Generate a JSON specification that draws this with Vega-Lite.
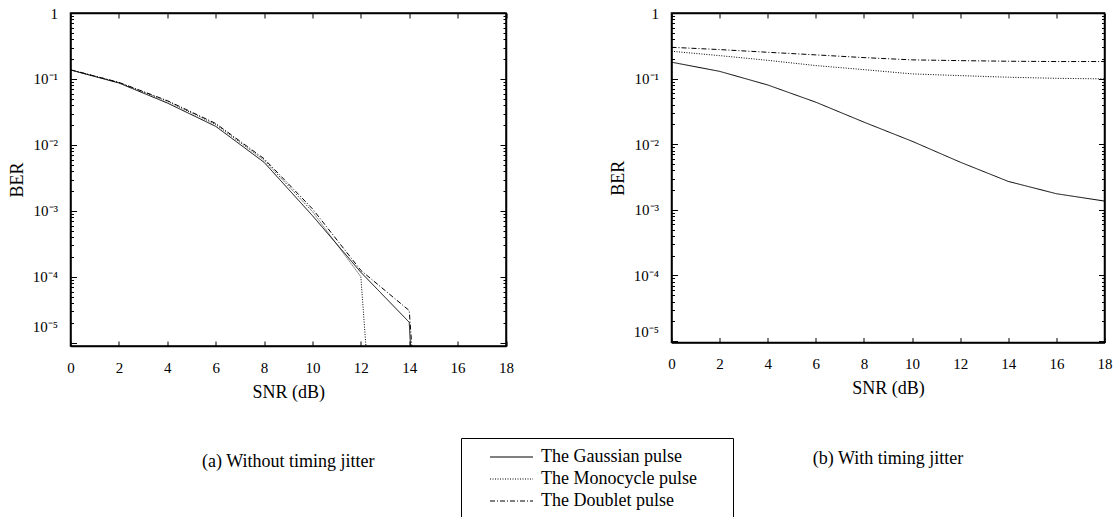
{
  "$schema": "https://vega.github.io/schema/vega-lite/v6.json",
  "background": "white",
  "padding": {"left": 7.5, "top": 5, "right": 5, "bottom": 0},
  "autosize": {"type": "pad"},
  "config": {
    "font": "Liberation Serif",
    "view": {"stroke": "black", "strokeWidth": 1.5},
    "axis": {
      "domainColor": "black", "domainWidth": 1.5, "tickColor": "black", "tickWidth": 1,
      "labelColor": "black", "titleColor": "black", "grid": false,
      "labelFont": "Liberation Serif", "titleFont": "Liberation Serif",
      "labelFontSize": 15, "titleFontSize": 18, "titleFontWeight": "normal",
      "labelOverlap": false, "labelFlush": false
    },
    "legend": {
      "orient": "none", "legendX": 390.5, "legendY": 425,
      "strokeColor": "black", "fillColor": "white", "padding": 10,
      "labelFont": "Liberation Serif", "labelFontSize": 18, "labelColor": "black", "labelLimit": 0,
      "symbolType": "M-4.3,0H4.3", "symbolSize": 100, "symbolStrokeColor": "black", "symbolStrokeWidth": 1,
      "symbolOffset": 31.5, "labelOffset": 20.5, "rowPadding": 4
    },
    "title": {"font": "Liberation Serif", "fontSize": 18, "fontWeight": "normal", "color": "black"}
  },
  "datasets": {
    "ber": [
      {"panel": "a", "pulse": "The Gaussian pulse", "snr": 0, "ber": 0.137},
      {"panel": "a", "pulse": "The Gaussian pulse", "snr": 2, "ber": 0.087},
      {"panel": "a", "pulse": "The Gaussian pulse", "snr": 4, "ber": 0.0433},
      {"panel": "a", "pulse": "The Gaussian pulse", "snr": 6, "ber": 0.0192},
      {"panel": "a", "pulse": "The Gaussian pulse", "snr": 8, "ber": 0.00547},
      {"panel": "a", "pulse": "The Gaussian pulse", "snr": 10, "ber": 0.00085},
      {"panel": "a", "pulse": "The Gaussian pulse", "snr": 12, "ber": 0.000118},
      {"panel": "a", "pulse": "The Gaussian pulse", "snr": 14, "ber": 0.0000206},
      {"panel": "a", "pulse": "The Gaussian pulse", "snr": 14.2, "ber": 0.000001},
      {"panel": "a", "pulse": "The Monocycle pulse", "snr": 0, "ber": 0.138},
      {"panel": "a", "pulse": "The Monocycle pulse", "snr": 2, "ber": 0.0885},
      {"panel": "a", "pulse": "The Monocycle pulse", "snr": 4, "ber": 0.046},
      {"panel": "a", "pulse": "The Monocycle pulse", "snr": 6, "ber": 0.0205},
      {"panel": "a", "pulse": "The Monocycle pulse", "snr": 8, "ber": 0.0059},
      {"panel": "a", "pulse": "The Monocycle pulse", "snr": 10, "ber": 0.00098},
      {"panel": "a", "pulse": "The Monocycle pulse", "snr": 12, "ber": 0.000101},
      {"panel": "a", "pulse": "The Monocycle pulse", "snr": 12.4, "ber": 0.000001},
      {"panel": "a", "pulse": "The Doublet pulse", "snr": 0, "ber": 0.138},
      {"panel": "a", "pulse": "The Doublet pulse", "snr": 2, "ber": 0.089},
      {"panel": "a", "pulse": "The Doublet pulse", "snr": 4, "ber": 0.047},
      {"panel": "a", "pulse": "The Doublet pulse", "snr": 6, "ber": 0.0212},
      {"panel": "a", "pulse": "The Doublet pulse", "snr": 8, "ber": 0.0062},
      {"panel": "a", "pulse": "The Doublet pulse", "snr": 10, "ber": 0.00108},
      {"panel": "a", "pulse": "The Doublet pulse", "snr": 12, "ber": 0.000126},
      {"panel": "a", "pulse": "The Doublet pulse", "snr": 14, "ber": 0.000031},
      {"panel": "a", "pulse": "The Doublet pulse", "snr": 14.3, "ber": 0.000001},
      {"panel": "b", "pulse": "The Gaussian pulse", "snr": 0, "ber": 0.178},
      {"panel": "b", "pulse": "The Gaussian pulse", "snr": 2, "ber": 0.129},
      {"panel": "b", "pulse": "The Gaussian pulse", "snr": 4, "ber": 0.08},
      {"panel": "b", "pulse": "The Gaussian pulse", "snr": 6, "ber": 0.0437},
      {"panel": "b", "pulse": "The Gaussian pulse", "snr": 8, "ber": 0.0217},
      {"panel": "b", "pulse": "The Gaussian pulse", "snr": 10, "ber": 0.0111},
      {"panel": "b", "pulse": "The Gaussian pulse", "snr": 12, "ber": 0.00533},
      {"panel": "b", "pulse": "The Gaussian pulse", "snr": 14, "ber": 0.00271},
      {"panel": "b", "pulse": "The Gaussian pulse", "snr": 16, "ber": 0.00176},
      {"panel": "b", "pulse": "The Gaussian pulse", "snr": 18, "ber": 0.00136},
      {"panel": "b", "pulse": "The Monocycle pulse", "snr": 0, "ber": 0.261},
      {"panel": "b", "pulse": "The Monocycle pulse", "snr": 2, "ber": 0.224},
      {"panel": "b", "pulse": "The Monocycle pulse", "snr": 4, "ber": 0.19},
      {"panel": "b", "pulse": "The Monocycle pulse", "snr": 6, "ber": 0.158},
      {"panel": "b", "pulse": "The Monocycle pulse", "snr": 8, "ber": 0.137},
      {"panel": "b", "pulse": "The Monocycle pulse", "snr": 10, "ber": 0.118},
      {"panel": "b", "pulse": "The Monocycle pulse", "snr": 12, "ber": 0.111},
      {"panel": "b", "pulse": "The Monocycle pulse", "snr": 14, "ber": 0.105},
      {"panel": "b", "pulse": "The Monocycle pulse", "snr": 16, "ber": 0.101},
      {"panel": "b", "pulse": "The Monocycle pulse", "snr": 18, "ber": 0.099},
      {"panel": "b", "pulse": "The Doublet pulse", "snr": 0, "ber": 0.3},
      {"panel": "b", "pulse": "The Doublet pulse", "snr": 2, "ber": 0.277},
      {"panel": "b", "pulse": "The Doublet pulse", "snr": 4, "ber": 0.252},
      {"panel": "b", "pulse": "The Doublet pulse", "snr": 6, "ber": 0.23},
      {"panel": "b", "pulse": "The Doublet pulse", "snr": 8, "ber": 0.209},
      {"panel": "b", "pulse": "The Doublet pulse", "snr": 10, "ber": 0.193},
      {"panel": "b", "pulse": "The Doublet pulse", "snr": 12, "ber": 0.188},
      {"panel": "b", "pulse": "The Doublet pulse", "snr": 14, "ber": 0.184},
      {"panel": "b", "pulse": "The Doublet pulse", "snr": 16, "ber": 0.182},
      {"panel": "b", "pulse": "The Doublet pulse", "snr": 18, "ber": 0.182}
    ]
  },
  "data": {"name": "ber"},
  "bounds": "flush",
  "spacing": 165,
  "resolve": {"scale": {"strokeDash": "shared", "x": "independent", "y": "independent"}},
  "hconcat": [
    {
      "width": 435.5, "height": 333,
      "title": {"text": "(a) Without timing jitter", "orient": "bottom", "anchor": "middle", "offset": 52},
      "transform": [{"filter": "datum.panel === 'a'"}],
      "layer": [
        {
          "mark": {"type": "line", "clip": true, "color": "black", "strokeWidth": 1},
          "encoding": {
            "x": {"field": "snr", "type": "quantitative", "scale": {"domain": [0, 18], "nice": false},
              "axis": {"orient": "bottom", "values": [0, 2, 4, 6, 8, 10, 12, 14, 16, 18], "tickSize": -5, "labelPadding": 19, "title": "SNR (dB)", "titlePadding": 8}},
            "y": {"field": "ber", "type": "quantitative", "scale": {"type": "log", "domain": [0.000009, 1], "nice": false},
              "axis": {"orient": "left", "title": "BER", "titlePadding": 6,
                "values": [0.00001, 0.00002, 0.00003, 0.00004, 0.00005, 0.00006, 0.00007, 0.00008, 0.00009, 0.0001, 0.0002, 0.0003, 0.0004, 0.0005, 0.0006, 0.0007, 0.0008, 0.0009, 0.001, 0.002, 0.003, 0.004, 0.005, 0.006, 0.007, 0.008, 0.009, 0.01, 0.02, 0.03, 0.04, 0.05, 0.06, 0.07, 0.08, 0.09, 0.1, 0.2, 0.3, 0.4, 0.5, 0.6, 0.7, 0.8, 0.9, 1],
                "tickSize": {"condition": {"test": "abs(log(datum.value)/LN10 - round(log(datum.value)/LN10)) < 0.000001", "value": -6}, "value": -3},
                "labelPadding": 19,
                "labelOffset": {"condition": {"test": "abs(datum.value - 0.00001) < 0.000000001", "value": -16}, "value": 0},
                "labelExpr": "abs(log(datum.value)/LN10 - round(log(datum.value)/LN10)) > 0.000001 ? '' : round(log(datum.value)/LN10) == 0 ? '1' : round(log(datum.value)/LN10) == -1 ? '10⁻¹' : round(log(datum.value)/LN10) == -2 ? '10⁻²' : round(log(datum.value)/LN10) == -3 ? '10⁻³' : round(log(datum.value)/LN10) == -4 ? '10⁻⁴' : '10⁻⁵'"}},
            "strokeDash": {"field": "pulse", "type": "nominal",
              "scale": {"domain": ["The Gaussian pulse", "The Monocycle pulse", "The Doublet pulse"], "range": [[1, 0], [1, 1.5], [5, 2, 1, 2]]},
              "legend": {"title": null, "labelExpr": "datum.label + '\u2800\u2800'"}}
          }
        },
        {
          "mark": {"type": "line", "clip": true, "opacity": 0},
          "encoding": {
            "x": {"field": "snr", "type": "quantitative", "axis": {"orient": "top", "values": [0, 2, 4, 6, 8, 10, 12, 14, 16, 18], "tickSize": -5, "labels": false, "title": null}},
            "y": {"field": "ber", "type": "quantitative",
              "axis": {"orient": "right", "labels": false, "title": null,
                "values": [0.00001, 0.00002, 0.00003, 0.00004, 0.00005, 0.00006, 0.00007, 0.00008, 0.00009, 0.0001, 0.0002, 0.0003, 0.0004, 0.0005, 0.0006, 0.0007, 0.0008, 0.0009, 0.001, 0.002, 0.003, 0.004, 0.005, 0.006, 0.007, 0.008, 0.009, 0.01, 0.02, 0.03, 0.04, 0.05, 0.06, 0.07, 0.08, 0.09, 0.1, 0.2, 0.3, 0.4, 0.5, 0.6, 0.7, 0.8, 0.9, 1],
                "tickSize": {"condition": {"test": "abs(log(datum.value)/LN10 - round(log(datum.value)/LN10)) < 0.000001", "value": -6}, "value": -3}}},
            "detail": {"field": "pulse"}
          }
        }
      ],
      "resolve": {"axis": {"x": "independent", "y": "independent"}}
    },
    {
      "width": 433, "height": 329.5,
      "title": {"text": "(b) With timing jitter", "orient": "bottom", "anchor": "middle", "offset": 52},
      "transform": [{"filter": "datum.panel === 'b'"}],
      "layer": [
        {
          "mark": {"type": "line", "clip": true, "color": "black", "strokeWidth": 1},
          "encoding": {
            "x": {"field": "snr", "type": "quantitative", "scale": {"domain": [0, 18], "nice": false},
              "axis": {"orient": "bottom", "values": [0, 2, 4, 6, 8, 10, 12, 14, 16, 18], "tickSize": -5, "labelPadding": 19, "title": "SNR (dB)", "titlePadding": 8}},
            "y": {"field": "ber", "type": "quantitative", "scale": {"type": "log", "domain": [0.0000095, 1], "nice": false},
              "axis": {"orient": "left", "title": "BER", "titlePadding": 6,
                "values": [0.00001, 0.00002, 0.00003, 0.00004, 0.00005, 0.00006, 0.00007, 0.00008, 0.00009, 0.0001, 0.0002, 0.0003, 0.0004, 0.0005, 0.0006, 0.0007, 0.0008, 0.0009, 0.001, 0.002, 0.003, 0.004, 0.005, 0.006, 0.007, 0.008, 0.009, 0.01, 0.02, 0.03, 0.04, 0.05, 0.06, 0.07, 0.08, 0.09, 0.1, 0.2, 0.3, 0.4, 0.5, 0.6, 0.7, 0.8, 0.9, 1],
                "tickSize": {"condition": {"test": "abs(log(datum.value)/LN10 - round(log(datum.value)/LN10)) < 0.000001", "value": -6}, "value": -3},
                "labelPadding": 19,
                "labelOffset": {"condition": {"test": "abs(datum.value - 0.00001) < 0.000000001", "value": -10}, "value": 0},
                "labelExpr": "abs(log(datum.value)/LN10 - round(log(datum.value)/LN10)) > 0.000001 ? '' : round(log(datum.value)/LN10) == 0 ? '1' : round(log(datum.value)/LN10) == -1 ? '10⁻¹' : round(log(datum.value)/LN10) == -2 ? '10⁻²' : round(log(datum.value)/LN10) == -3 ? '10⁻³' : round(log(datum.value)/LN10) == -4 ? '10⁻⁴' : '10⁻⁵'"}},
            "strokeDash": {"field": "pulse", "type": "nominal",
              "scale": {"domain": ["The Gaussian pulse", "The Monocycle pulse", "The Doublet pulse"], "range": [[1, 0], [1, 1.5], [5, 2, 1, 2]]},
              "legend": {"title": null, "labelExpr": "datum.label + '\u2800\u2800'"}}
          }
        },
        {
          "mark": {"type": "line", "clip": true, "opacity": 0},
          "encoding": {
            "x": {"field": "snr", "type": "quantitative", "axis": {"orient": "top", "values": [0, 2, 4, 6, 8, 10, 12, 14, 16, 18], "tickSize": -5, "labels": false, "title": null}},
            "y": {"field": "ber", "type": "quantitative",
              "axis": {"orient": "right", "labels": false, "title": null,
                "values": [0.00001, 0.00002, 0.00003, 0.00004, 0.00005, 0.00006, 0.00007, 0.00008, 0.00009, 0.0001, 0.0002, 0.0003, 0.0004, 0.0005, 0.0006, 0.0007, 0.0008, 0.0009, 0.001, 0.002, 0.003, 0.004, 0.005, 0.006, 0.007, 0.008, 0.009, 0.01, 0.02, 0.03, 0.04, 0.05, 0.06, 0.07, 0.08, 0.09, 0.1, 0.2, 0.3, 0.4, 0.5, 0.6, 0.7, 0.8, 0.9, 1],
                "tickSize": {"condition": {"test": "abs(log(datum.value)/LN10 - round(log(datum.value)/LN10)) < 0.000001", "value": -6}, "value": -3}}},
            "detail": {"field": "pulse"}
          }
        }
      ],
      "resolve": {"axis": {"x": "independent", "y": "independent"}}
    }
  ]
}
